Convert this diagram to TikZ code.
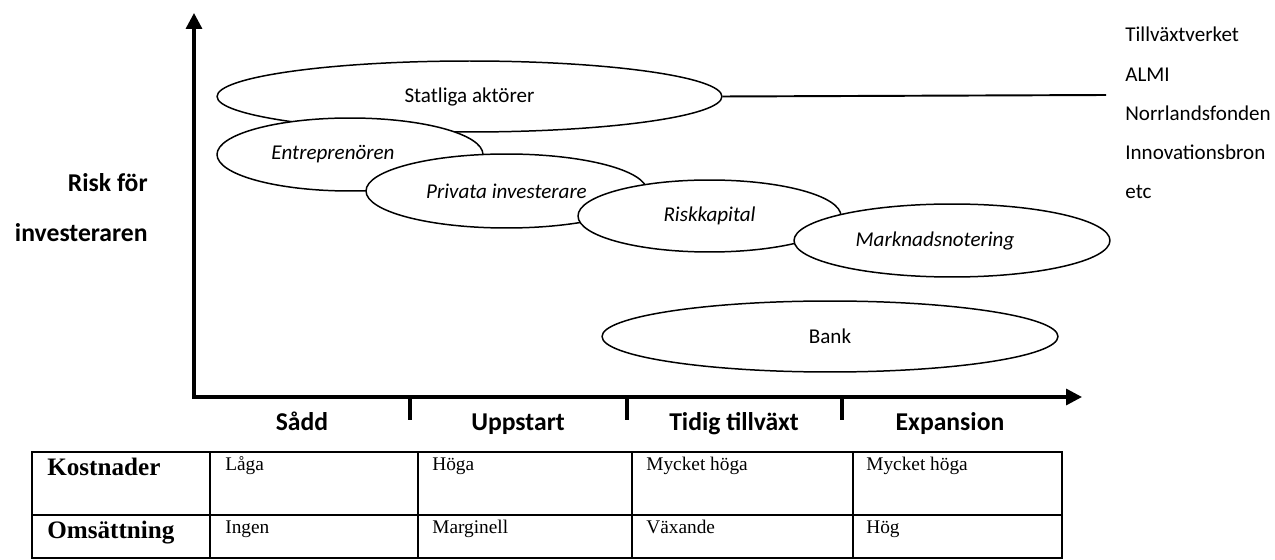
\documentclass[tikz,border=0pt]{standalone}
\usepackage{fontspec}
\setmainfont{Carlito}
\newfontfamily\tablefont{Liberation Serif}
\usepackage{xcolor}
\usepackage{tikz}
\usetikzlibrary{positioning,arrows.meta,shapes.geometric}

\begin{document}
\begin{tikzpicture}[
  x=0.02cm, y=0.02cm,
  font=\fontsize{12}{14}\selectfont,
  actor/.style={ellipse, draw=black, fill=white, line width=0.85pt, inner sep=0pt},
  axis/.style={line width=1.9pt, {Triangle[length=9pt,width=9pt]}-{Triangle[length=9pt,width=9pt]}},
  tickmark/.style={line width=1.9pt},
  stage/.style={font=\fontsize{14.6}{17}\selectfont\bfseries, anchor=base, inner sep=0pt},
  ylabel/.style={font=\fontsize{14.6}{17}\selectfont\bfseries, anchor=base east, inner sep=0pt},
  agency/.style={anchor=base west, inner sep=0pt},
  grid/.style={line width=1.1pt},
  rowhead/.style={font=\tablefont\fontsize{14.3}{17}\selectfont\bfseries, anchor=base west, inner sep=0pt},
  cell/.style={font=\tablefont\fontsize{11}{13}\selectfont, anchor=base west, inner sep=0pt}
]
\useasboundingbox (0,0) rectangle (1275,-560);

% axes
\coordinate (origin) at (194,-397);
\coordinate (ytop) at (194,-13);
\coordinate (xend) at (1082,-397);
\draw[axis] (ytop) -- (origin) -- (xend);
\draw[tickmark] (410,-397) -- (410,-420);
\draw[tickmark] (627,-397) -- (627,-420);
\draw[tickmark] (842,-397) -- (842,-420);

\node[ylabel] (risk) at (148,-192) {Risk för};
\node[ylabel] (investor) at (148,-242) {investeraren};

% actors, later ones on top
\node[actor, minimum width=10.1cm, minimum height=1.42cm] (statliga) at (469.5,-96.5) {Statliga aktörer};
\node[actor, minimum width=5.32cm, minimum height=1.46cm, label={[xshift=-0.34cm]center:\itshape Entreprenören}] (entre) at (350,-154.5) {};
\node[actor, minimum width=5.62cm, minimum height=1.48cm] (privata) at (506.5,-191) {\itshape Privata investerare};
\node[actor, minimum width=5.26cm, minimum height=1.44cm] (riskkap) at (709.5,-216) {\itshape Riskkapital};
\node[actor, minimum width=6.32cm, minimum height=1.46cm, label={[xshift=-0.34cm]center:\itshape Marknadsnotering}] (notering) at (952,-240.5) {};
\node[actor, minimum width=9.12cm, minimum height=1.42cm] (bank) at (830,-336.5) {Bank};

% state agencies
\coordinate (listend) at (1106,-95);
\draw[line width=1.1pt] (statliga.east) -- (listend);
\node[agency] (tillvaxt) at (1125,-42) {Tillväxtverket};
\node[below=0.785cm of tillvaxt.base west, agency] (almi) {ALMI};
\node[below=0.785cm of almi.base west, agency] (norrland) {Norrlandsfonden};
\node[below=0.785cm of norrland.base west, agency] (innobron) {Innovationsbron};
\node[below=0.785cm of innobron.base west, agency] (etc) {etc};

% stages
\node[stage] (sadd) at (302,-431) {Sådd};
\node[stage] (uppstart) at (518,-431) {Uppstart};
\node[stage] (tidig) at (734,-431) {Tidig tillväxt};
\node[stage] (expansion) at (950,-431) {Expansion};

% table
\draw[grid] (32,-452) rectangle (1062,-558);
\draw[grid] (32,-515) -- (1062,-515);
\draw[grid] (210,-452) -- (210,-558);
\draw[grid] (418,-452) -- (418,-558);
\draw[grid] (632,-452) -- (632,-558);
\draw[grid] (853,-452) -- (853,-558);

\node[rowhead] (kost) at (47,-476) {Kostnader};
\node[rowhead] (oms) at (47,-539) {Omsättning};
\node[cell] (k1) at (225,-471) {Låga};
\node[cell] (k2) at (432,-471) {Höga};
\node[cell] (k3) at (646,-471) {Mycket höga};
\node[cell] (k4) at (866,-471) {Mycket höga};
\node[cell] (o1) at (225,-533) {Ingen};
\node[cell] (o2) at (432,-533) {Marginell};
\node[cell] (o3) at (646,-533) {Växande};
\node[cell] (o4) at (866,-533) {Hög};
\end{tikzpicture}
\end{document}
